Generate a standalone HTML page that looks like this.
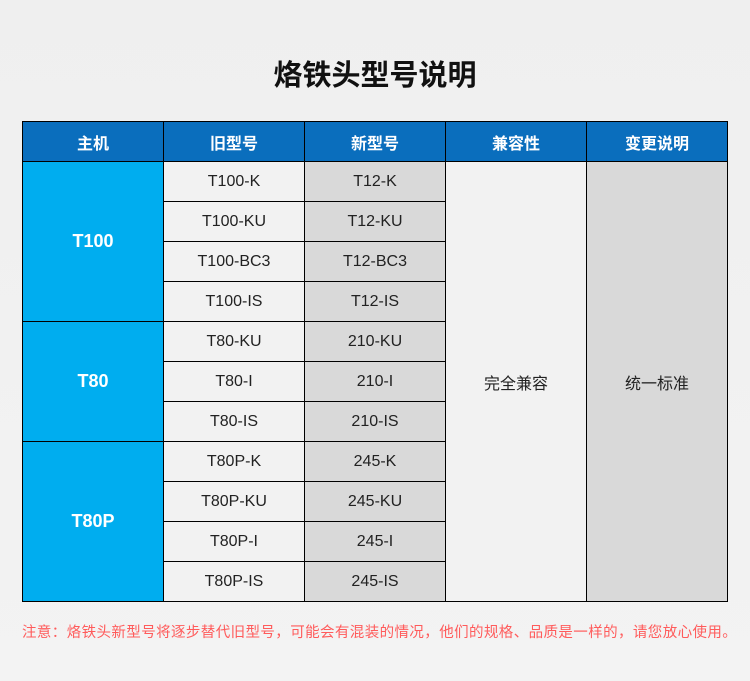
<!DOCTYPE html>
<html><head><meta charset="utf-8"><style>
*{margin:0;padding:0;box-sizing:border-box}
body{width:750px;height:681px;background:linear-gradient(#efefef,#f3f3f3);font-family:"Liberation Sans","Noto Sans CJK SC",sans-serif;position:relative;overflow:hidden}
.t{position:absolute;top:52px;left:0;width:750px;text-align:center;font-size:29px;font-weight:bold;color:#111}
.c{position:absolute;display:flex;align-items:center;justify-content:center;border:1px solid #000;font-size:16px;color:#222}
.h{background:#0a6ebd;color:#fff;font-weight:bold;font-size:16px}
.m{background:#00adef;color:#fff;font-size:18px;font-weight:bold}
.a{background:#f2f2f2}.b{background:#d9d9d9}
.n{position:absolute;top:621px;left:22px;font-size:14.5px;letter-spacing:0.4px;color:#ff5b5b;white-space:nowrap}
</style></head><body>
<div class="t">烙铁头型号说明</div>
<div class="c h" style="left:22px;top:121px;width:142px;height:41px">主机</div>
<div class="c h" style="left:163px;top:121px;width:142px;height:41px">旧型号</div>
<div class="c h" style="left:304px;top:121px;width:142px;height:41px">新型号</div>
<div class="c h" style="left:445px;top:121px;width:142px;height:41px">兼容性</div>
<div class="c h" style="left:586px;top:121px;width:142px;height:41px">变更说明</div>
<div class="c m" style="left:22px;top:161px;width:142px;height:161px">T100</div>
<div class="c m" style="left:22px;top:321px;width:142px;height:121px">T80</div>
<div class="c m" style="left:22px;top:441px;width:142px;height:161px">T80P</div>
<div class="c a" style="left:445px;top:161px;width:142px;height:441px">完全兼容</div>
<div class="c b" style="left:586px;top:161px;width:142px;height:441px">统一标准</div>
<div id="rows"></div>
<div class="n">注意：烙铁头新型号将逐步替代旧型号，可能会有混装的情况，他们的规格、品质是一样的，请您放心使用。</div>
<script>
var d=[["T100-K","T12-K"],["T100-KU","T12-KU"],["T100-BC3","T12-BC3"],["T100-IS","T12-IS"],["T80-KU","210-KU"],["T80-I","210-I"],["T80-IS","210-IS"],["T80P-K","245-K"],["T80P-KU","245-KU"],["T80P-I","245-I"],["T80P-IS","245-IS"]];
var h="";d.forEach(function(r,i){var y=161+i*40;
h+='<div class="c a" style="left:163px;top:'+y+'px;width:142px;height:41px">'+r[0]+'</div>';
h+='<div class="c b" style="left:304px;top:'+y+'px;width:142px;height:41px">'+r[1]+'</div>';});
document.getElementById("rows").innerHTML=h;
</script>
</body></html>
